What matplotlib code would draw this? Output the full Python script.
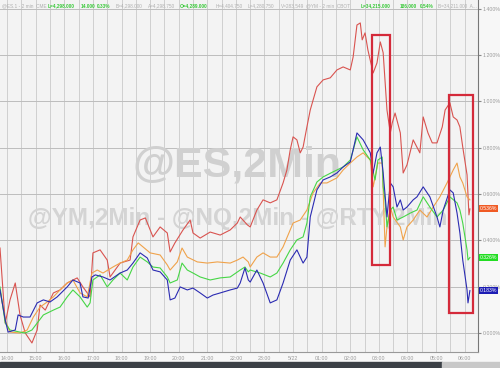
import matplotlib
matplotlib.use("Agg")
import matplotlib.pyplot as plt
from matplotlib.patches import Rectangle

plt.rcParams["font.family"] = ["Liberation Sans", "DejaVu Sans"]

# minutes after 14:00 (5/21) and % change
red_t = [-15, -4, 6, 17, 27, 38, 52, 63, 69, 80, 97, 111, 126, 147, 159, 174, 180, 195, 210, 216,
         237, 258, 264, 279, 290, 306, 321, 336, 342, 352, 369, 384, 390, 405, 426, 447, 468, 483, 489, 504,
         510, 524, 537, 552, 566, 579, 587, 594, 600, 608, 615, 621, 629, 636, 642, 650, 663, 678, 692, 705,
         720, 726, 734, 741, 745, 751, 757, 768, 776, 783, 789, 797, 804, 808, 814, 825, 831, 839, 852, 866,
         873, 883, 892, 902, 913, 919, 929, 936, 944, 950, 956, 965, 969, 971]
red_v = [0.367, 0.043, 0.143, 0.216, 0.078, 0.000, -0.043, 0.013, 0.121, 0.099, 0.173, 0.186, 0.216, 0.238, 0.199, 0.156, 0.346, 0.359, 0.315, 0.242,
         0.302, 0.315, 0.415, 0.488, 0.497, 0.415, 0.458, 0.432, 0.350, 0.389, 0.445, 0.488, 0.432, 0.410, 0.436, 0.423, 0.445, 0.475, 0.501, 0.467,
         0.458, 0.531, 0.575, 0.562, 0.575, 0.648, 0.704, 0.791, 0.847, 0.834, 0.778, 0.803, 0.890, 0.963, 1.006, 1.063, 1.093, 1.102, 1.136, 1.149,
         1.136, 1.192, 1.330, 1.339, 1.266, 1.296, 1.222, 1.123, 1.166, 1.257, 1.210, 0.963, 0.864, 0.907, 0.950, 0.864, 0.691, 0.726, 0.834, 0.778,
         0.933, 0.864, 0.821, 0.821, 0.890, 0.963, 0.994, 0.933, 0.920, 0.890, 0.803, 0.683, 0.510, 0.536]

orange_t = [-15, -4, 6, 27, 42, 55, 69, 84, 97, 111, 126, 138, 153, 168, 178, 189, 201, 222, 237, 252,
            264, 275, 285, 300, 321, 336, 342, 357, 367, 378, 399, 420, 441, 468, 483, 495, 506,
            510, 524, 537, 552, 566, 579, 600, 615, 629, 642, 657, 671, 692, 705, 720, 734, 747, 762,
            768, 778, 787, 789, 793, 797, 804, 810, 825, 831, 839, 852, 866, 881, 894, 908, 923, 936,
            944, 950, 956, 965, 971]
orange_v = [0.186, 0.056, 0.004, 0.000, 0.013, 0.069, 0.112, 0.134, 0.156, 0.186, 0.216, 0.229, 0.173, 0.156, 0.259, 0.272, 0.259, 0.285, 0.302, 0.315,
            0.359, 0.389, 0.372, 0.346, 0.337, 0.294, 0.272, 0.307, 0.367, 0.328, 0.307, 0.302, 0.307, 0.302, 0.315, 0.328, 0.307,
            0.285, 0.328, 0.346, 0.328, 0.328, 0.372, 0.475, 0.488, 0.531, 0.605, 0.648, 0.648, 0.670, 0.704, 0.734, 0.760, 0.778, 0.747,
            0.631, 0.734, 0.734, 0.618, 0.372, 0.458, 0.544, 0.501, 0.458, 0.402, 0.458, 0.488, 0.531, 0.501, 0.544, 0.588, 0.648, 0.704,
            0.734, 0.674, 0.648, 0.588, 0.575]

green_t = [-15, -4, 6, 27, 38, 52, 63, 76, 97, 111, 126, 138, 153, 168, 174, 180, 195, 210, 222, 237,
           252, 264, 279, 294, 306, 321, 336, 342, 357, 367, 378, 390, 405, 426, 447, 468, 489, 499, 506,
           510, 531, 552, 566, 579, 594, 608, 621, 629, 636, 650, 663, 684, 705, 720, 734, 747, 762,
           772, 778, 787, 789, 793, 797, 804, 810, 818, 831, 846, 860, 873, 887, 902, 915, 929, 944,
           950, 956, 965, 967, 971]
green_v = [0.199, 0.043, 0.013, 0.004, 0.000, 0.013, 0.043, 0.078, 0.099, 0.112, 0.156, 0.186, 0.156, 0.112, 0.130, 0.229, 0.251, 0.199, 0.229, 0.259,
           0.229, 0.285, 0.328, 0.307, 0.285, 0.281, 0.242, 0.216, 0.229, 0.302, 0.272, 0.259, 0.242, 0.229, 0.238, 0.242, 0.272, 0.285, 0.264,
           0.272, 0.259, 0.242, 0.259, 0.302, 0.359, 0.402, 0.415, 0.475, 0.588, 0.652, 0.674, 0.696, 0.717, 0.747, 0.847, 0.791, 0.747,
           0.661, 0.747, 0.760, 0.631, 0.575, 0.458, 0.531, 0.544, 0.488, 0.501, 0.518, 0.531, 0.588, 0.544, 0.501, 0.531, 0.588, 0.562,
           0.531, 0.475, 0.359, 0.315, 0.326]

blue_t = [-15, -4, 2, 17, 23, 34, 48, 63, 76, 90, 105, 126, 138, 153, 159, 170, 178, 185, 201, 216,
          237, 252, 264, 279, 294, 306, 321, 336, 342, 352, 363, 378, 390, 405, 420, 432, 447, 468, 483, 489,
          499, 506, 510, 524, 537, 552, 566, 579, 594, 608, 615, 621, 629, 636, 650, 663, 678, 692, 705, 720,
          726, 734, 747, 762, 768, 776, 783, 789, 797, 804, 810, 818, 825, 831, 839, 852, 860, 873, 887, 902,
          908, 915, 929, 936, 944, 950, 956, 965, 967, 971]
blue_v = [0.186, 0.056, 0.004, 0.013, 0.078, 0.069, 0.069, 0.130, 0.143, 0.134, 0.156, 0.199, 0.229, 0.216, 0.156, 0.151, 0.242, 0.251, 0.242, 0.229,
          0.259, 0.272, 0.302, 0.346, 0.324, 0.272, 0.264, 0.229, 0.143, 0.151, 0.199, 0.186, 0.194, 0.173, 0.151, 0.164, 0.173, 0.186, 0.194, 0.216,
          0.281, 0.229, 0.220, 0.272, 0.216, 0.130, 0.143, 0.216, 0.315, 0.359, 0.328, 0.302, 0.328, 0.501, 0.618, 0.661, 0.674, 0.691, 0.717, 0.739,
          0.791, 0.864, 0.834, 0.778, 0.691, 0.778, 0.803, 0.691, 0.501, 0.648, 0.631, 0.544, 0.575, 0.531, 0.544, 0.575, 0.588, 0.631, 0.588, 0.501,
          0.458, 0.531, 0.618, 0.605, 0.518, 0.432, 0.315, 0.186, 0.130, 0.183]

# highlight boxes: start/end minute, low/high %
box_t0 = [766, 927]
box_t1 = [804, 978]
box_lo = [0.294, 0.086]
box_hi = [1.287, 1.028]

tick_min = list(range(0, 961, 60))
tick_lbl = ["14:00", "15:00", "16:00", "17:00", "18:00", "19:00", "20:00", "21:00", "22:00",
            "23:00", "5/22", "01:00", "02:00", "03:00", "04:00", "05:00", "06:00"]
y_ticks = [0.0, 0.2, 0.4, 0.6, 0.8, 1.0, 1.2, 1.4]

last_lbl = ["0.536%", "0.326%", "0.183%"]
last_val = [red_v[-1], green_v[-1], blue_v[-1]]
last_col = ["#f05a24", "#22dd22", "#1c1cb4"]

fig = plt.figure(figsize=(5, 3.68), dpi=100, facecolor="#f7f7f7")
ax = fig.add_axes([0, 16 / 368, 478 / 500, 352 / 368])
ax.set_facecolor("#f3f3f3")

ax.set_xlim(-15, 988)
ax.set_ylim(-0.082, 1.438)

for m in range(0, 990, 30):
    ax.axvline(m, color="#cfcfcf", lw=0.7, zorder=0)
for v in y_ticks:
    ax.axhline(v, color="#bdbdbd", lw=0.7, zorder=0)

# watermarks
ax.text(0.495, 0.53, "@ES,2Min", transform=ax.transAxes, ha="center", va="center",
        fontsize=31, fontweight="bold", color="#d0d0d0", zorder=1)
ax.text(0.497, 0.38, "@YM,2Min - @NQ,2Min - @RTY,2Min", transform=ax.transAxes,
        ha="center", va="center", fontsize=17.5, fontweight="bold", color="#d4d4d4", zorder=1)

ax.plot(red_t, red_v, color="#d9534f", lw=0.8, zorder=3)
ax.plot(orange_t, orange_v, color="#f0a24a", lw=0.8, zorder=3)
ax.plot(green_t, green_v, color="#46d646", lw=0.8, zorder=3)
ax.plot(blue_t, blue_v, color="#2b2bb2", lw=0.8, zorder=4)

for t0, t1, lo, hi in zip(box_t0, box_t1, box_lo, box_hi):
    ax.add_patch(Rectangle((t0, lo), t1 - t0, hi - lo, fill=False,
                           edgecolor="#d42a3a", lw=1.6, zorder=5))

ax.set_xticks(tick_min)
ax.set_xticklabels(tick_lbl)
ax.yaxis.tick_right()
ax.set_yticks(y_ticks)
ax.set_yticklabels([f"{v:.3f}%" for v in y_ticks])
ax.tick_params(axis="x", length=0, labelsize=3.8, colors="#9a9a9a", pad=3)
ax.tick_params(axis="y", length=2.5, labelsize=3.8, colors="#9a9a9a", pad=1, color="#888888")
for s in ["top", "left"]:
    ax.spines[s].set_visible(False)
ax.spines["right"].set_color("#777777")
ax.spines["bottom"].set_color("#999999")
ax.spines["right"].set_linewidth(0.8)

for lbl, val, col in zip(last_lbl, last_val, last_col):
    ax.annotate(lbl, xy=(1.0, val), xycoords=("axes fraction", "data"),
                xytext=(1.5, 0), textcoords="offset points", ha="left", va="center",
                fontsize=3.7, color="white", annotation_clip=False,
                bbox=dict(boxstyle="square,pad=0.2", fc=col, ec="none"), zorder=6)

# header line
header = [
    (0.003, "@ES.1 - 2 min  CME", "#b0b0b0", "normal"),
    (0.096, "L=4,298.000", "#38c838", "bold"),
    (0.162, "14.000", "#38c838", "bold"),
    (0.194, "0.33%", "#38c838", "bold"),
    (0.232, "B=4,298.000", "#b0b0b0", "normal"),
    (0.296, "A=4,298.750", "#b0b0b0", "normal"),
    (0.360, "O=4,289.000", "#38c838", "bold"),
    (0.432, "H=4,404.750", "#b0b0b0", "normal"),
    (0.496, "L=4,280.750", "#b0b0b0", "normal"),
    (0.562, "V=283,549", "#b0b0b0", "normal"),
    (0.612, "@YM - 2 min  CBOT", "#b0b0b0", "normal"),
    (0.722, "L=34,215.000", "#38c838", "bold"),
    (0.800, "186.000", "#38c838", "bold"),
    (0.840, "0.54%", "#38c838", "bold"),
    (0.876, "B=34,211.000  A...", "#b0b0b0", "normal"),
]
for x, txt, col, wt in header:
    fig.text(x, 1 - 6 / 368, txt, fontsize=3.4, color=col, fontweight=wt, va="center", ha="left")

# bottom scrollbar
fig.patches.append(Rectangle((0, 0), 442 / 500, 6 / 368, transform=fig.transFigure,
                             color="#3b4046", zorder=0))
fig.patches.append(Rectangle((442 / 500, 0), 58 / 500, 6 / 368, transform=fig.transFigure,
                             color="#c8c8c8", zorder=0))

fig.savefig("out.png", dpi=100, facecolor=fig.get_facecolor())
